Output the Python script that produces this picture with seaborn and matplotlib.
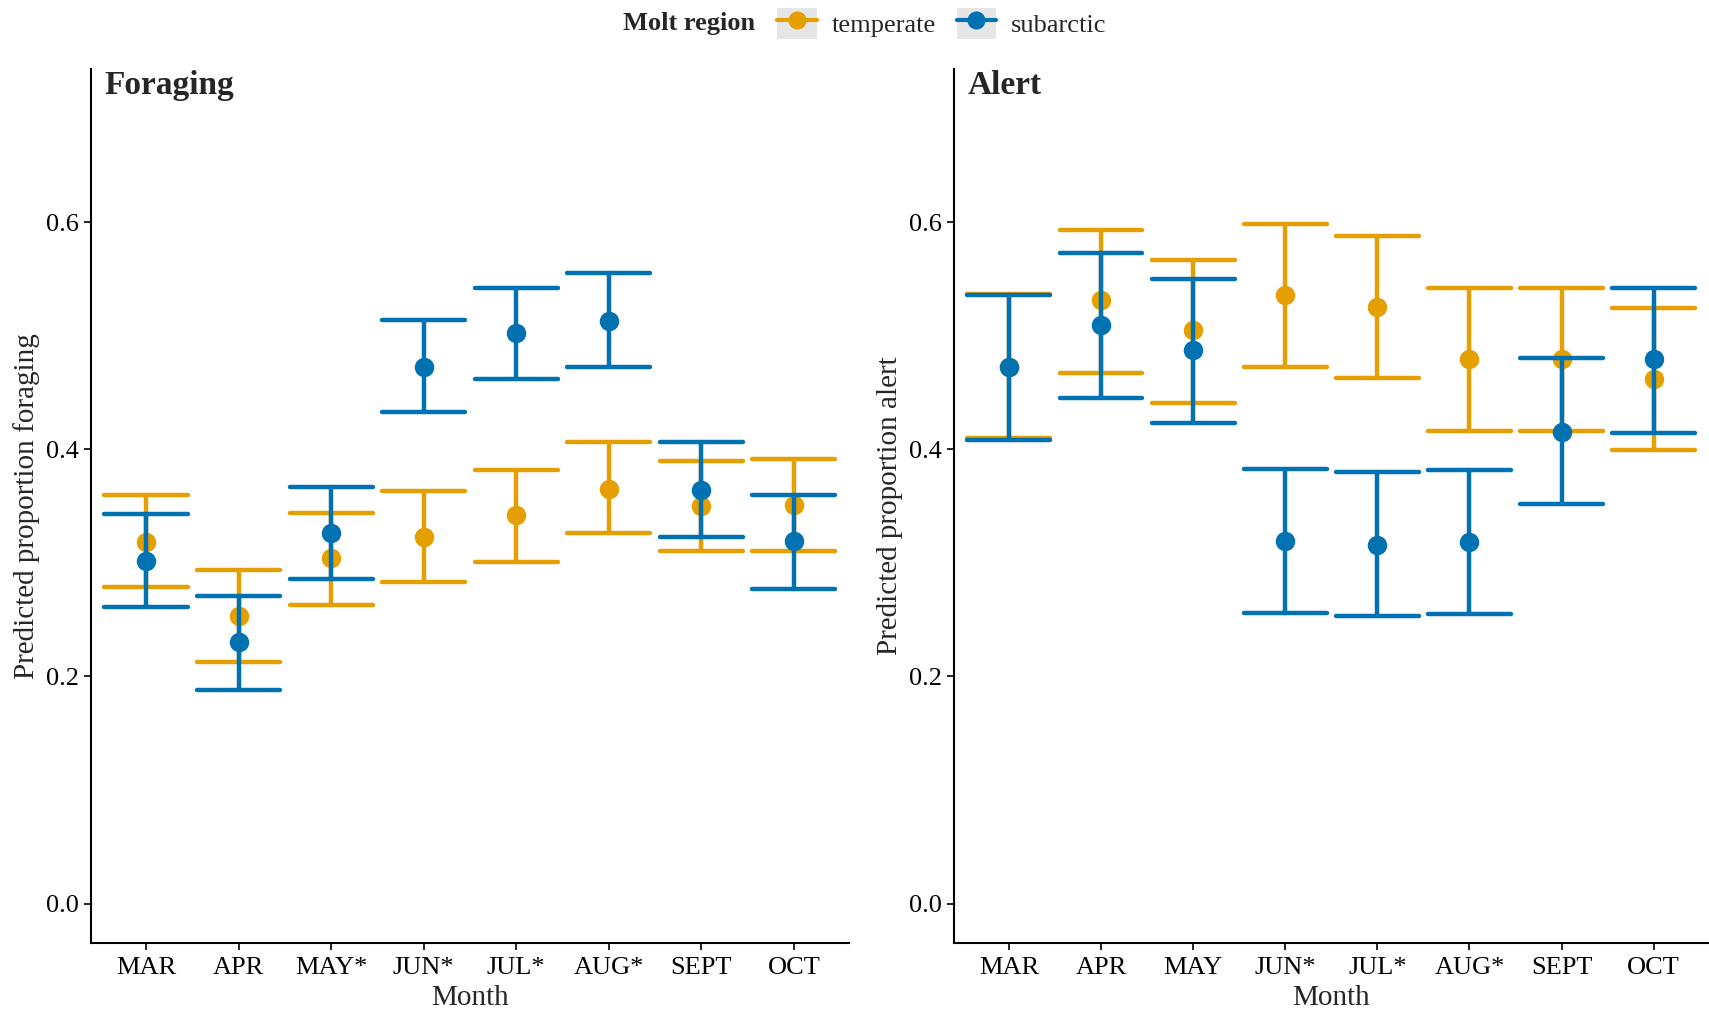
import numpy as np
import pandas as pd
import matplotlib
matplotlib.use("Agg")
import matplotlib.pyplot as plt
import seaborn as sns
from matplotlib.lines import Line2D
from matplotlib.patches import Rectangle
from matplotlib.legend_handler import HandlerTuple

# -------------------------------
# data
# -------------------------------
months_forage = ["MAR", "APR", "MAY*", "JUN*", "JUL*", "AUG*", "SEPT", "OCT"]
months_alert = ["MAR", "APR", "MAY", "JUN*", "JUL*", "AUG*", "SEPT", "OCT"]
regions = ["temperate", "subarctic"]

forage_temp_est = [0.318, 0.253, 0.304, 0.323, 0.342, 0.365, 0.350, 0.351]
forage_temp_lo = [0.279, 0.213, 0.263, 0.283, 0.301, 0.326, 0.310, 0.310]
forage_temp_hi = [0.360, 0.294, 0.344, 0.363, 0.382, 0.406, 0.390, 0.391]
forage_sub_est = [0.302, 0.230, 0.326, 0.472, 0.502, 0.513, 0.364, 0.319]
forage_sub_lo = [0.261, 0.188, 0.286, 0.433, 0.462, 0.472, 0.323, 0.277]
forage_sub_hi = [0.343, 0.271, 0.367, 0.514, 0.542, 0.555, 0.406, 0.360]

alert_temp_est = [0.472, 0.531, 0.505, 0.536, 0.525, 0.479, 0.479, 0.462]
alert_temp_lo = [0.410, 0.467, 0.441, 0.472, 0.463, 0.416, 0.416, 0.399]
alert_temp_hi = [0.537, 0.593, 0.567, 0.598, 0.588, 0.542, 0.542, 0.524]
alert_sub_est = [0.472, 0.509, 0.487, 0.319, 0.316, 0.318, 0.415, 0.479]
alert_sub_lo = [0.408, 0.445, 0.423, 0.256, 0.253, 0.255, 0.352, 0.414]
alert_sub_hi = [0.536, 0.573, 0.550, 0.383, 0.380, 0.382, 0.480, 0.542]

colors = {"temperate": "#E69F00", "subarctic": "#0072B2"}


def long_table(months, series):
    rows = []
    for region, (est, lo, hi) in series.items():
        for m, e, l, h in zip(months, est, lo, hi):
            for v in (l, e, h):
                rows.append({"month": m, "region": region, "value": v})
    return pd.DataFrame(rows)


df_forage = long_table(months_forage, {
    "temperate": (forage_temp_est, forage_temp_lo, forage_temp_hi),
    "subarctic": (forage_sub_est, forage_sub_lo, forage_sub_hi)})
df_alert = long_table(months_alert, {
    "temperate": (alert_temp_est, alert_temp_lo, alert_temp_hi),
    "subarctic": (alert_sub_est, alert_sub_lo, alert_sub_hi)})

sns.set_style("ticks")
plt.rcParams["font.family"] = ["Liberation Serif", "DejaVu Serif"]

fig = plt.figure(figsize=(17.09, 10.10), dpi=100)
ax1 = fig.add_axes([0.053, 0.066, 0.444, 0.866])
ax2 = fig.add_axes([0.558, 0.066, 0.442, 0.866])

panels = [(ax1, df_forage, months_forage, "Foraging", "Predicted proportion foraging"),
          (ax2, df_alert, months_alert, "Alert", "Predicted proportion alert")]

for ax, d, months, title, ylab in panels:
    sns.pointplot(data=d, x="month", y="value", hue="region",
                  order=months, hue_order=regions, palette=colors,
                  estimator=np.median, errorbar=lambda v: (v.min(), v.max()),
                  dodge=False, linestyle="none", markers="o", markersize=12,
                  capsize=0.9, err_kws={"linewidth": 3.2}, legend=False, ax=ax)
    ax.set_xlim(-0.6, len(months) - 0.4)
    ax.set_ylim(-0.035, 0.735)
    ax.set_yticks([0.0, 0.2, 0.4, 0.6])
    ax.set_yticklabels(["0.0", "0.2", "0.4", "0.6"])
    ax.tick_params(labelsize=19, length=5, width=1.2, color="black", labelcolor="black")
    ax.tick_params(axis="x", pad=5)
    ax.set_xlabel("Month", fontsize=21, labelpad=4)
    ax.set_ylabel(ylab, fontsize=21, labelpad=4)
    sns.despine(ax=ax)
    for s in ["left", "bottom"]:
        ax.spines[s].set_linewidth(1.5)
        ax.spines[s].set_color("black")
    ax.text(0.018, 0.998, title, transform=ax.transAxes, va="top", ha="left",
            fontsize=24, fontweight="bold")

# legend on top
handles = [(Rectangle((0, 0), 1, 1, facecolor="#e6e6e6", edgecolor="none"),
            Line2D([], [], color=colors[r], marker="o", markersize=12, linewidth=3))
           for r in regions]
fig.legend(handles, regions, handler_map={tuple: HandlerTuple(ndivide=1, pad=0)},
           loc="center", bbox_to_anchor=(0.551, 0.977), ncol=2, frameon=False,
           fontsize=19, handlelength=1.5, handleheight=1.45,
           handletextpad=0.55, columnspacing=0.8)
fig.text(755 / 1709, 0.977, "Molt region", ha="right", va="center",
         fontsize=19, fontweight="bold")

plt.savefig("out.png", dpi=100)
